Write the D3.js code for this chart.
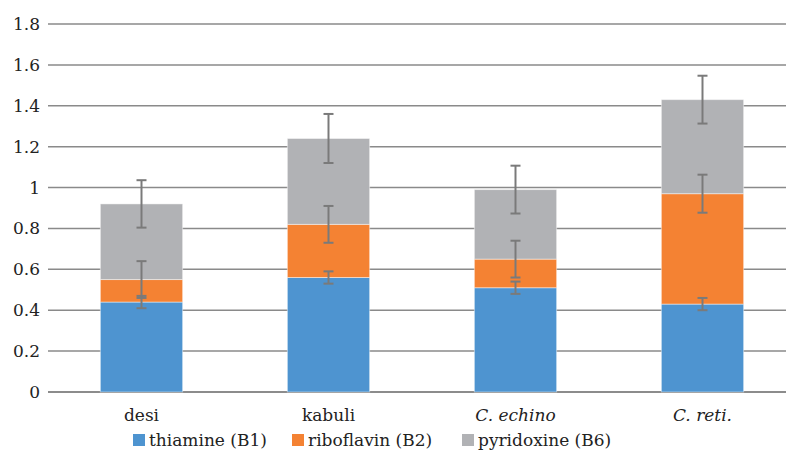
<!DOCTYPE html>
<html>
<head>
<meta charset="utf-8">
<script src="https://cdn.jsdelivr.net/npm/d3@7"></script>
<style>
  body { margin: 0; background: #fff; overflow: hidden; }
  svg { display: block; }
</style>
</head>
<body>
<div id="chart"></div>
<script>
// data
const categories = ['desi', 'kabuli', 'C. echino', 'C. reti.'];
const italicCats = ['C. echino', 'C. reti.'];
const seriesNames = ['thiamine (B1)', 'riboflavin (B2)', 'pyridoxine (B6)'];
const thiamine   = [0.44, 0.56, 0.51, 0.43];
const riboflavin = [0.11, 0.26, 0.14, 0.54];
const pyridoxine = [0.37, 0.42, 0.34, 0.46];
const thiamineErr   = [0.03, 0.03, 0.03, 0.03];
const riboflavinErr = [0.09, 0.09, 0.09, 0.093];
const pyridoxineErr = [0.116, 0.12, 0.117, 0.117];
const yTicks = [0, 0.2, 0.4, 0.6, 0.8, 1, 1.2, 1.4, 1.6, 1.8];

const colors = ['#4e94d0', '#f48233', '#b1b2b5'];
const fontFamily = "'DejaVu Serif', 'Liberation Serif', serif";

const width = 787, height = 453;
const margin = {top: 24, right: -9, bottom: 61, left: 48};
const innerWidth = width - margin.left - margin.right;
const innerHeight = height - margin.top - margin.bottom;

const svg = d3.select('#chart').append('svg')
    .attr('width', width)
    .attr('height', height);

const plotG = svg.append('g')
    .attr('transform', `translate(${margin.left},${margin.top})`);

const x = d3.scaleBand()
    .domain(categories)
    .range([0, innerWidth])
    .paddingInner(0.56)
    .paddingOuter(0.28);

const y = d3.scaleLinear()
    .domain([0, 1.8])
    .range([innerHeight, 0]);

// gridlines
plotG.selectAll('.grid')
    .data(yTicks)
    .join('line')
        .attr('class', 'grid')
        .attr('x1', 0)
        .attr('x2', width - margin.left - 1)
        .attr('y1', d => y(d))
        .attr('y2', d => y(d))
        .attr('stroke', d => d === 0 ? '#666' : '#8a8a8a')
        .attr('stroke-width', 1.5);

// y labels
plotG.selectAll('.ylab')
    .data(yTicks)
    .join('text')
        .attr('class', 'ylab')
        .attr('x', -8)
        .attr('y', d => y(d))
        .attr('dy', '0.35em')
        .attr('text-anchor', 'end')
        .attr('font-family', fontFamily)
        .attr('font-size', 17)
        .attr('fill', '#222')
        .text(d => d3.format('')(d));

// stacked data
const rows = categories.map((c, i) => ({
    cat: c,
    vals: [thiamine[i], riboflavin[i], pyridoxine[i]],
    errs: [thiamineErr[i], riboflavinErr[i], pyridoxineErr[i]]
}));

rows.forEach(r => {
    let base = 0;
    r.segs = r.vals.map((v, k) => {
        const s = {k: k, y0: base, y1: base + v, err: r.errs[k]};
        base += v;
        return s;
    });
});

const barG = plotG.selectAll('.bar')
    .data(rows)
    .join('g')
        .attr('class', 'bar')
        .attr('transform', d => `translate(${x(d.cat)},0)`);

barG.selectAll('rect')
    .data(d => d.segs)
    .join('rect')
        .attr('x', 0)
        .attr('width', x.bandwidth())
        .attr('y', d => y(d.y1))
        .attr('height', d => y(d.y0) - y(d.y1))
        .attr('fill', d => colors[d.k])
        .attr('stroke', 'rgba(255,255,255,0.45)')
        .attr('stroke-width', 1);

// error bars
const cx = x.bandwidth() / 2;
const errG = barG.selectAll('.err')
    .data(d => d.segs)
    .join('g')
        .attr('class', 'err')
        .attr('stroke', '#7a7a7a')
        .attr('stroke-width', 2);

errG.append('line')
    .attr('x1', cx).attr('x2', cx)
    .attr('y1', d => y(d.y1 - d.err))
    .attr('y2', d => y(d.y1 + d.err));
errG.append('line')
    .attr('x1', cx - 5).attr('x2', cx + 5)
    .attr('y1', d => y(d.y1 - d.err))
    .attr('y2', d => y(d.y1 - d.err));
errG.append('line')
    .attr('x1', cx - 5).attr('x2', cx + 5)
    .attr('y1', d => y(d.y1 + d.err))
    .attr('y2', d => y(d.y1 + d.err));

// x labels
plotG.selectAll('.xlab')
    .data(categories)
    .join('text')
        .attr('class', 'xlab')
        .attr('x', d => x(d) + x.bandwidth() / 2)
        .attr('y', innerHeight + 29)
        .attr('text-anchor', 'middle')
        .attr('font-family', fontFamily)
        .attr('font-size', 17)
        .attr('fill', '#222')
        .attr('font-style', d => italicCats.includes(d) ? 'italic' : 'normal')
        .text(d => d);

// legend
const legendX = [133, 292, 462];
const legend = svg.selectAll('.legend')
    .data(seriesNames)
    .join('g')
        .attr('class', 'legend')
        .attr('transform', (d, i) => `translate(${legendX[i]},434)`);

legend.append('rect')
    .attr('width', 12)
    .attr('height', 12)
    .attr('fill', (d, i) => colors[i]);

legend.append('text')
    .attr('x', 16)
    .attr('y', 6)
    .attr('dy', '0.35em')
    .attr('font-family', fontFamily)
    .attr('font-size', 17)
    .attr('fill', '#222')
    .text(d => d);
</script>
</body>
</html>
